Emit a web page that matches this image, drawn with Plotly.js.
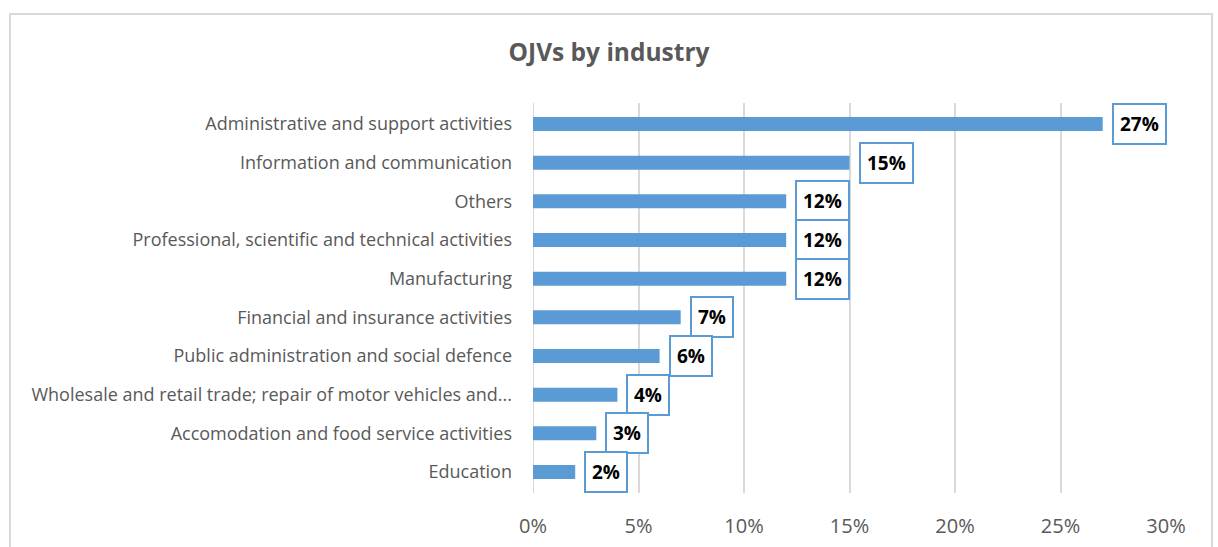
<!DOCTYPE html>
<html>
<head>
<meta charset="utf-8">
<script src="https://cdn.plot.ly/plotly-3.0.1.min.js"></script>
<style>
  html, body { margin: 0; padding: 0; background: #fff; }
  #frame { position: absolute; left: 9px; top: 13px; width: 1204px; height: 560px; border: 2px solid #d9d9d9; box-sizing: border-box; }
  #chart { position: absolute; left: 0; top: 0; width: 1218px; height: 547px; }
</style>
</head>
<body>
<div id="frame"></div>
<div id="chart"></div>
<script>
const categories = [
  "Administrative and support activities",
  "Information and communication",
  "Others",
  "Professional, scientific and technical activities",
  "Manufacturing",
  "Financial and insurance activities",
  "Public administration and social defence",
  "Wholesale and retail trade; repair of motor vehicles and...",
  "Accomodation and food service activities",
  "Education"
];
const shares = [0.27, 0.15, 0.12, 0.12, 0.12, 0.07, 0.06, 0.04, 0.03, 0.02];
const shareLabels = ["27%", "15%", "12%", "12%", "12%", "7%", "6%", "4%", "3%", "2%"];
const xTickVals = [0, 0.05, 0.10, 0.15, 0.20, 0.25, 0.30];
const xTickText = ["0%", "5%", "10%", "15%", "20%", "25%", "30%"];

const FONT = "'Open Sans', Lato, sans-serif";

const trace = {
  type: "bar",
  orientation: "h",
  x: shares,
  y: categories,
  marker: { color: "#5b9bd5" },
  hoverinfo: "x+y"
};

const annotations = shares.map((v, i) => ({
  x: v, y: categories[i], xref: "x", yref: "y",
  text: "<b>" + shareLabels[i] + "</b>",
  showarrow: false, xanchor: "left", xshift: 9,
  font: { family: FONT, size: 19, color: "#000" },
  bgcolor: "#ffffff", bordercolor: "#5b9bd5", borderwidth: 2,
  borderpad: 6
}));

const layout = {
  width: 1218, height: 547,
  paper_bgcolor: "rgba(0,0,0,0)",
  plot_bgcolor: "rgba(0,0,0,0)",
  margin: { l: 533, r: 52, t: 103, b: 54 },
  title: {
    text: "<b>OJVs by industry</b>",
    x: 0.5, xanchor: "center", y: 0.905, yanchor: "middle",
    font: { family: FONT, size: 24.5, color: "#595959" }
  },
  bargap: 0.64,
  showlegend: false,
  xaxis: {
    range: [0, 0.30],
    tickvals: xTickVals, ticktext: xTickText,
    showgrid: true, gridcolor: "#d9d9d9", gridwidth: 2,
    zeroline: false, showline: false, ticks: "",
    ticklabelstandoff: 19,
    tickfont: { family: FONT, size: 20, color: "#595959" },
    fixedrange: true
  },
  yaxis: {
    type: "category",
    autorange: "reversed",
    showgrid: false, zeroline: false, showline: false, ticks: "",
    ticklabelstandoff: 20,
    tickfont: { family: FONT, size: 18, color: "#595959" },
    fixedrange: true
  },
  shapes: [{
    type: "line", xref: "x", yref: "paper", x0: 0, x1: 0, y0: 0, y1: 1,
    line: { color: "#d9d9d9", width: 2 }, layer: "below"
  }],
  annotations: annotations
};

Plotly.newPlot("chart", [trace], layout, { displayModeBar: false, staticPlot: true });
</script>
</body>
</html>
